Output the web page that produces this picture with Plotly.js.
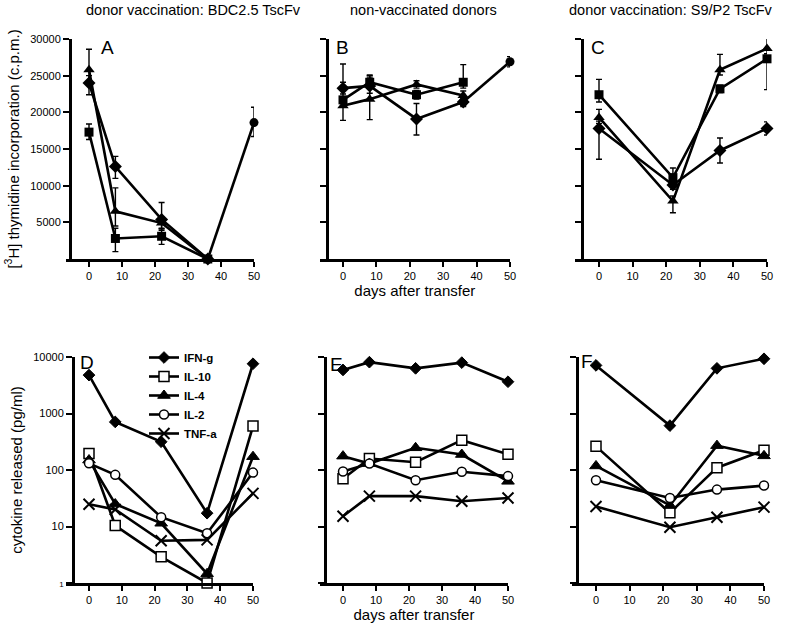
<!DOCTYPE html>
<html>
<head>
<meta charset="utf-8">
<script src="https://cdn.plot.ly/plotly-3.0.1.min.js"></script>
<style>html,body{margin:0;padding:0;background:#fff;}#chart{width:797px;height:627px;}</style>
</head>
<body>
<div id="chart"></div>
<script>
// ---------- Data: proliferation (top row) ----------
const panelTitles = ["donor vaccination: BDC2.5 TscFv", "non-vaccinated donors", "donor vaccination: S9/P2 TscFv"];
const panelLetters = ["A", "B", "C", "D", "E", "F"];
const dayTicks = [0, 10, 20, 30, 40, 50];
const cpmTicks = [5000, 10000, 15000, 20000, 25000, 30000];
const cpmTickText = ["5000", "10000", "15000", "20000", "25000", "30000"];
const cytoTicks = [1, 10, 100, 1000, 10000];
const cytoTickText = ['<span style="font-size:8px">1</span>', "10", "100", "1000", "10000"];

// Panel A
const A_days4 = [0, 8, 22, 36];
const A_diamond = [24000, 12600, 5400, 0];
const A_diamond_up = [1000, 1400, 2300, 0];
const A_diamond_dn = [1600, 1600, 1500, 0];
const A_square = [17300, 2800, 3100, 0];
const A_square_up = [1100, 1400, 1100, 0];
const A_square_dn = [1000, 1800, 1100, 0];
const A_triangle = [25800, 6500, 4900, 0];
const A_triangle_up = [2800, 3200, 800, 0];
const A_triangle_dn = [1500, 2000, 800, 0];
const A_circle_days = [36, 50];
const A_circle = [0, 18600];
const A_circle_up = [0, 2100];
const A_circle_dn = [0, 1900];

// Panel B
const B_days4 = [0, 8, 22, 36];
const B_diamond = [23300, 23600, 19100, 21400];
const B_diamond_up = [800, 1400, 2100, 500];
const B_diamond_dn = [800, 1000, 2200, 600];
const B_square = [21700, 24100, 22400, 24100];
const B_square_up = [4900, 700, 600, 2400];
const B_square_dn = [1000, 800, 600, 800];
const B_triangle = [20900, 21800, 23800, 22300];
const B_triangle_up = [800, 3300, 500, 600];
const B_triangle_dn = [2000, 2800, 500, 800];
const B_circle_days = [36, 50];
const B_circle = [21400, 26900];
const B_circle_up = [0, 700];
const B_circle_dn = [0, 700];

// Panel C
const C_days = [0, 22, 36, 50];
const C_diamond = [17800, 10100, 14800, 17800];
const C_diamond_up = [1000, 600, 1700, 900];
const C_diamond_dn = [4200, 600, 1700, 900];
const C_square = [22400, 11100, 23200, 27300];
const C_square_up = [2100, 1300, 500, 500];
const C_square_dn = [1000, 800, 500, 4200];
const C_triangle = [19300, 7900, 25800, 28700];
const C_triangle_up = [1100, 700, 2100, 2000];
const C_triangle_dn = [800, 1600, 700, 700];

// ---------- Data: cytokines (bottom row) ----------
const cytokines = ["IFN-g", "IL-10", "IL-4", "IL-2", "TNF-a"];
const D_days = [0, 8, 22, 36, 50];
const D_IFNg = [4780, 710, 316, 17.2, 7600];
const D_IL10 = [196, 10.4, 2.9, 1.0, 600];
const D_IL4 = [150, 25, 11.4, 1.46, 172];
const D_IL2 = [131, 82, 14.6, 7.6, 90];
const D_TNFa = [24.7, 20, 5.6, 5.8, 38.6];

const E_days = [0, 8, 22, 36, 50];
const E_IFNg = [5900, 8100, 6300, 7950, 3650];
const E_IL10 = [70, 160, 137, 337, 190];
const E_IL4 = [176, 130, 247, 188, 63];
const E_IL2 = [94, 130, 66, 93, 78];
const E_TNFa = [15.2, 34.5, 34.5, 28, 32];

const F_days = [0, 22, 36, 50];
const F_IFNg = [7100, 610, 6300, 9300];
const F_IL10 = [262, 17.5, 110, 223];
const F_IL4 = [118, 23.6, 270, 178];
const F_IL2 = [66, 32, 45, 53];
const F_TNFa = [22.6, 9.7, 14.6, 22];

// ---------- Styles ----------
const FONT = "Liberation Sans, Arial, sans-serif";
const sym = {
  diamond: {symbol: "diamond", size: 10, color: "black"},
  square: {symbol: "square", size: 9, color: "black"},
  triangle: {symbol: "triangle-up", size: 10, color: "black"},
  circle: {symbol: "circle", size: 9, color: "black"}
};
const cytoMarker = {
  "IFN-g": {symbol: "diamond", size: 9, color: "black", line: {color: "black", width: 1}},
  "IL-10": {symbol: "square", size: 10, color: "white", line: {color: "black", width: 1.5}},
  "IL-4": {symbol: "triangle-up", size: 11, color: "black", line: {color: "black", width: 1}},
  "IL-2": {symbol: "circle", size: 9, color: "white", line: {color: "black", width: 1.5}},
  "TNF-a": {symbol: "x-thin", size: 11, color: "black", line: {color: "black", width: 2}}
};

function cpmTrace(ax, x, y, up, dn, m) {
  return {
    type: "scatter", mode: "lines+markers", x: x, y: y,
    xaxis: "x" + ax, yaxis: "y" + ax, showlegend: false, cliponaxis: false,
    line: {color: "black", width: 2.6},
    marker: {symbol: m.symbol, size: m.size, color: m.color},
    error_y: {type: "data", symmetric: false, array: up, arrayminus: dn, color: "black", thickness: 1.4, width: 3}
  };
}
function cytoTrace(ax, x, y, name, legend) {
  return {
    type: "scatter", mode: "lines+markers", x: x, y: y, name: name,
    xaxis: "x" + ax, yaxis: "y" + ax, showlegend: legend, cliponaxis: false,
    line: {color: "black", width: 2.6},
    marker: cytoMarker[name]
  };
}

const traces = [
  cpmTrace("", A_days4, A_square, A_square_up, A_square_dn, sym.square),
  cpmTrace("", A_days4, A_triangle, A_triangle_up, A_triangle_dn, sym.triangle),
  cpmTrace("", A_days4, A_diamond, A_diamond_up, A_diamond_dn, sym.diamond),
  cpmTrace("", A_circle_days, A_circle, A_circle_up, A_circle_dn, sym.circle),
  cpmTrace("2", B_days4, B_square, B_square_up, B_square_dn, sym.square),
  cpmTrace("2", B_days4, B_triangle, B_triangle_up, B_triangle_dn, sym.triangle),
  cpmTrace("2", B_days4, B_diamond, B_diamond_up, B_diamond_dn, sym.diamond),
  cpmTrace("2", B_circle_days, B_circle, B_circle_up, B_circle_dn, sym.circle),
  cpmTrace("3", C_days, C_square, C_square_up, C_square_dn, sym.square),
  cpmTrace("3", C_days, C_triangle, C_triangle_up, C_triangle_dn, sym.triangle),
  cpmTrace("3", C_days, C_diamond, C_diamond_up, C_diamond_dn, sym.diamond)
];
const cytoSets = [
  ["4", D_days, [D_IFNg, D_IL10, D_IL4, D_IL2, D_TNFa], true],
  ["5", E_days, [E_IFNg, E_IL10, E_IL4, E_IL2, E_TNFa], false],
  ["6", F_days, [F_IFNg, F_IL10, F_IL4, F_IL2, F_TNFa], false]
];
cytoSets.forEach(s => {
  s[2].forEach((vals, i) => traces.push(cytoTrace(s[0], s[1], vals, cytokines[i], s[3])));
});

// ---------- Layout ----------
const W = 797, H = 627;
const px = v => v / W;
const py = v => 1 - v / H;

function xAxis(anchor, l, r, showTitle) {
  const a = {
    domain: [px(l), px(r)], range: [-7, 50], anchor: anchor,
    tickvals: dayTicks, ticks: "outside", ticklen: 5, tickwidth: 2, tickcolor: "black",
    showline: true, linecolor: "black", linewidth: 2.6, showgrid: false, zeroline: false,
    tickfont: {family: FONT, size: 11, color: "black"}
  };
  if (showTitle) a.title = {text: "days after transfer", font: {family: FONT, size: 15, color: "black"}, standoff: 1};
  return a;
}
function yAxisTop(pos, labels, title) {
  const a = {
    domain: [py(259), py(39)], range: [0, 30000], anchor: "free", position: px(pos),
    tickvals: cpmTicks, ticktext: cpmTickText, showticklabels: labels, ticks: "outside", ticklen: 6, tickwidth: 2, tickcolor: "black",
    showline: true, linecolor: "black", linewidth: 2.6, showgrid: false, zeroline: false,
    tickfont: {family: FONT, size: 11, color: "black"}
  };
  if (title) a.title = {text: "[<sup>3</sup>H] thymidine incorporation (c.p.m.)", font: {family: FONT, size: 15, color: "black"}, standoff: 6};
  return a;
}
function yAxisBot(pos, labels, title) {
  const a = {
    domain: [py(583), py(357)], type: "log", range: [0, 4], anchor: "free", position: px(pos),
    tickvals: cytoTicks, ticktext: cytoTickText, showticklabels: labels, ticks: "outside", ticklen: 6, tickwidth: 2, tickcolor: "black",
    showline: true, linecolor: "black", linewidth: 2.6, showgrid: false, zeroline: false,
    tickfont: {family: FONT, size: 11, color: "black"}
  };
  if (title) a.title = {text: "cytokine released (pg/ml)", font: {family: FONT, size: 15, color: "black"}, standoff: 6};
  return a;
}

const titleX = [193, 423, 671];
const letterPos = [[107, 47], [342, 47], [598, 48], [87, 362], [336, 364], [587, 361]];
const annotations = [];
panelTitles.forEach((t, i) => annotations.push({
  text: t, xref: "paper", yref: "paper", x: px(titleX[i]), y: py(10), xanchor: "center", yanchor: "middle",
  showarrow: false, font: {family: FONT, size: 14.5, color: "black"}
}));
panelLetters.forEach((t, i) => annotations.push({
  text: t, xref: "paper", yref: "paper", x: px(letterPos[i][0]), y: py(letterPos[i][1]), xanchor: "center", yanchor: "middle",
  showarrow: false, font: {family: FONT, size: 19, color: "black"}
}));

const layout = {
  width: W, height: H, margin: {l: 0, r: 0, t: 0, b: 0},
  paper_bgcolor: "white", plot_bgcolor: "white",
  font: {family: FONT, color: "black"},
  showlegend: true,
  legend: {x: px(144), y: py(343), xanchor: "left", yanchor: "top", bgcolor: "rgba(0,0,0,0)",
    font: {family: FONT, size: 11.5, color: "black", weight: "bold"}, tracegroupgap: 0, itemwidth: 30},
  xaxis: xAxis("y", 89 - 7 * 3.3, 254, false),
  xaxis2: xAxis("y2", 343 - 7 * 3.34, 510, true),
  xaxis3: xAxis("y3", 599 - 7 * 3.36, 767, false),
  xaxis4: xAxis("y4", 89 - 7 * 3.28, 253, false),
  xaxis5: xAxis("y5", 343 - 7 * 3.3, 508, true),
  xaxis6: xAxis("y6", 596 - 7 * 3.36, 764, false),
  yaxis: yAxisTop(70, true, true),
  yaxis2: yAxisTop(327, false, false),
  yaxis3: yAxisTop(582, false, false),
  yaxis4: yAxisBot(73, true, true),
  yaxis5: yAxisBot(325, false, false),
  yaxis6: yAxisBot(577, false, false),
  annotations: annotations
};

Plotly.newPlot("chart", traces, layout, {staticPlot: true, displayModeBar: false});
</script>
</body>
</html>
